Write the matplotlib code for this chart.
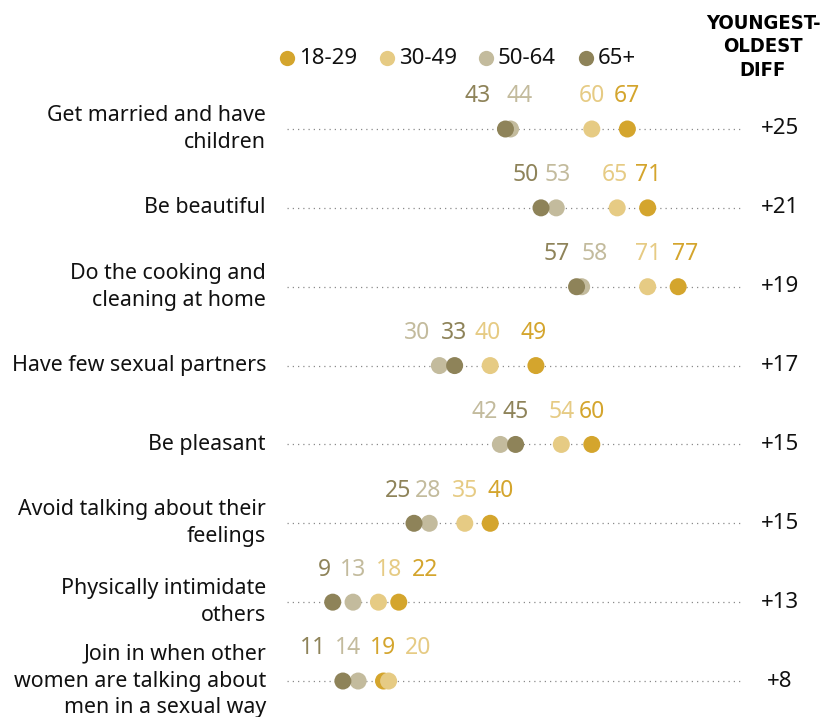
import matplotlib
matplotlib.use("Agg")
import matplotlib.pyplot as plt
from matplotlib.transforms import offset_copy

# ---- data ----
behaviors = [
    "Get married and have\nchildren",
    "Be beautiful",
    "Do the cooking and\ncleaning at home",
    "Have few sexual partners",
    "Be pleasant",
    "Avoid talking about their\nfeelings",
    "Physically intimidate\nothers",
    "Join in when other\nwomen are talking about\nmen in a sexual way",
]
age_groups = ["18-29", "30-49", "50-64", "65+"]
age_18_29 = [67, 71, 77, 49, 60, 40, 22, 19]
age_30_49 = [60, 65, 71, 40, 54, 35, 18, 20]
age_50_64 = [44, 53, 58, 30, 42, 28, 13, 14]
age_65_plus = [43, 50, 57, 33, 45, 25, 9, 11]
diff_labels = ["+25", "+21", "+19", "+17", "+15", "+15", "+13", "+8"]

series = [age_18_29, age_30_49, age_50_64, age_65_plus]
colors = ["#D4A52D", "#E6CB84", "#C3BB9D", "#8E8359"]

# horizontal nudges (pixels) that keep crowded value labels apart,
# ordered like `series` within each row
label_shift_px = [
    [0, 0, 9, -28],
    [0, -2, 1, -15],
    [7, 0, 13, -20],
    [-2, -3, -22, -1],
    [0, 0, -16, 0],
    [10, 0, -1, -16],
    [26, 11, 0, -8],
    [0, 29, -10, -30],
]

W, H, DPI = 836, 717, 100
plt.rcParams["font.family"] = ["Noto Sans", "DejaVu Sans"]

fig = plt.figure(figsize=(W / DPI, H / DPI), dpi=DPI)

# plotting area: x from the value 0 baseline to the end of the guide lines
x_left, x_right = 287, 742
px_per_unit = 5.08
row_top, row_step = 129, 78.86
ax_top_px = 40
ax = fig.add_axes([x_left / W, 0, (x_right - x_left) / W, (H - ax_top_px) / H])
xmax = (x_right - x_left) / px_per_unit
ax.set_xlim(0, xmax)
ax.set_ylim((H - row_top) / row_step, (ax_top_px - row_top) / row_step)
ax.axis("off")

rows = list(range(len(behaviors)))

# dotted guide lines
for r in rows:
    ax.plot([0, xmax], [r, r], color="#8a8a8a", lw=0.9,
            linestyle=(0, (1, 3.2)), zorder=1, solid_capstyle="butt")

# dots
for k, (vals, col) in enumerate(zip(series, colors)):
    ax.scatter(vals, rows, s=150, color=col, edgecolor="none", zorder=3 + k,
               clip_on=False)

# value labels above the dots
for r in rows:
    for k, (vals, col) in enumerate(zip(series, colors)):
        dx = label_shift_px[r][k] * 72 / DPI
        ax.annotate(str(vals[r]), xy=(vals[r], r), xytext=(dx, 23.5),
                    textcoords="offset points", ha="center", va="center",
                    fontsize=16.5, color=col, annotation_clip=False)

# category labels on the left
left_tr = offset_copy(ax.transData, fig=fig, x=-21 * 72 / DPI, y=0,
                      units="points")
for r, name in zip(rows, behaviors):
    ax.text(0, r, name, transform=left_tr, ha="right", va="center",
            fontsize=15.4, color="#111111", linespacing=1.36)

# youngest-oldest difference column
diff_tr = offset_copy(ax.transData, fig=fig, x=(780 - x_left) * 72 / DPI, y=0,
                      units="points")
for r, d in zip(rows, diff_labels):
    ax.text(0, r, d, transform=diff_tr, ha="center", va="center",
            fontsize=16, color="#111111")

fig.text(763 / W, 1 - 47 / H, "YOUNGEST-\nOLDEST\nDIFF", ha="center",
         va="center", fontsize=14.5, fontweight="bold", linespacing=1.3,
         family=["DejaVu Sans"], stretch="condensed", color="#000000")

# legend
legend_y = 1 - 58 / H
legend_dot_x = [287, 387, 486, 586]
for lx, lab, col in zip(legend_dot_x, age_groups, colors):
    fig.add_artist(plt.Line2D([lx / W], [legend_y], marker="o", markersize=11,
                              color=col, markeredgewidth=0, linestyle="none",
                              transform=fig.transFigure))
    fig.text((lx + 12) / W, legend_y, lab, ha="left", va="center",
             fontsize=16, color="#111111")

fig.savefig("out.png", dpi=DPI, facecolor="white")
